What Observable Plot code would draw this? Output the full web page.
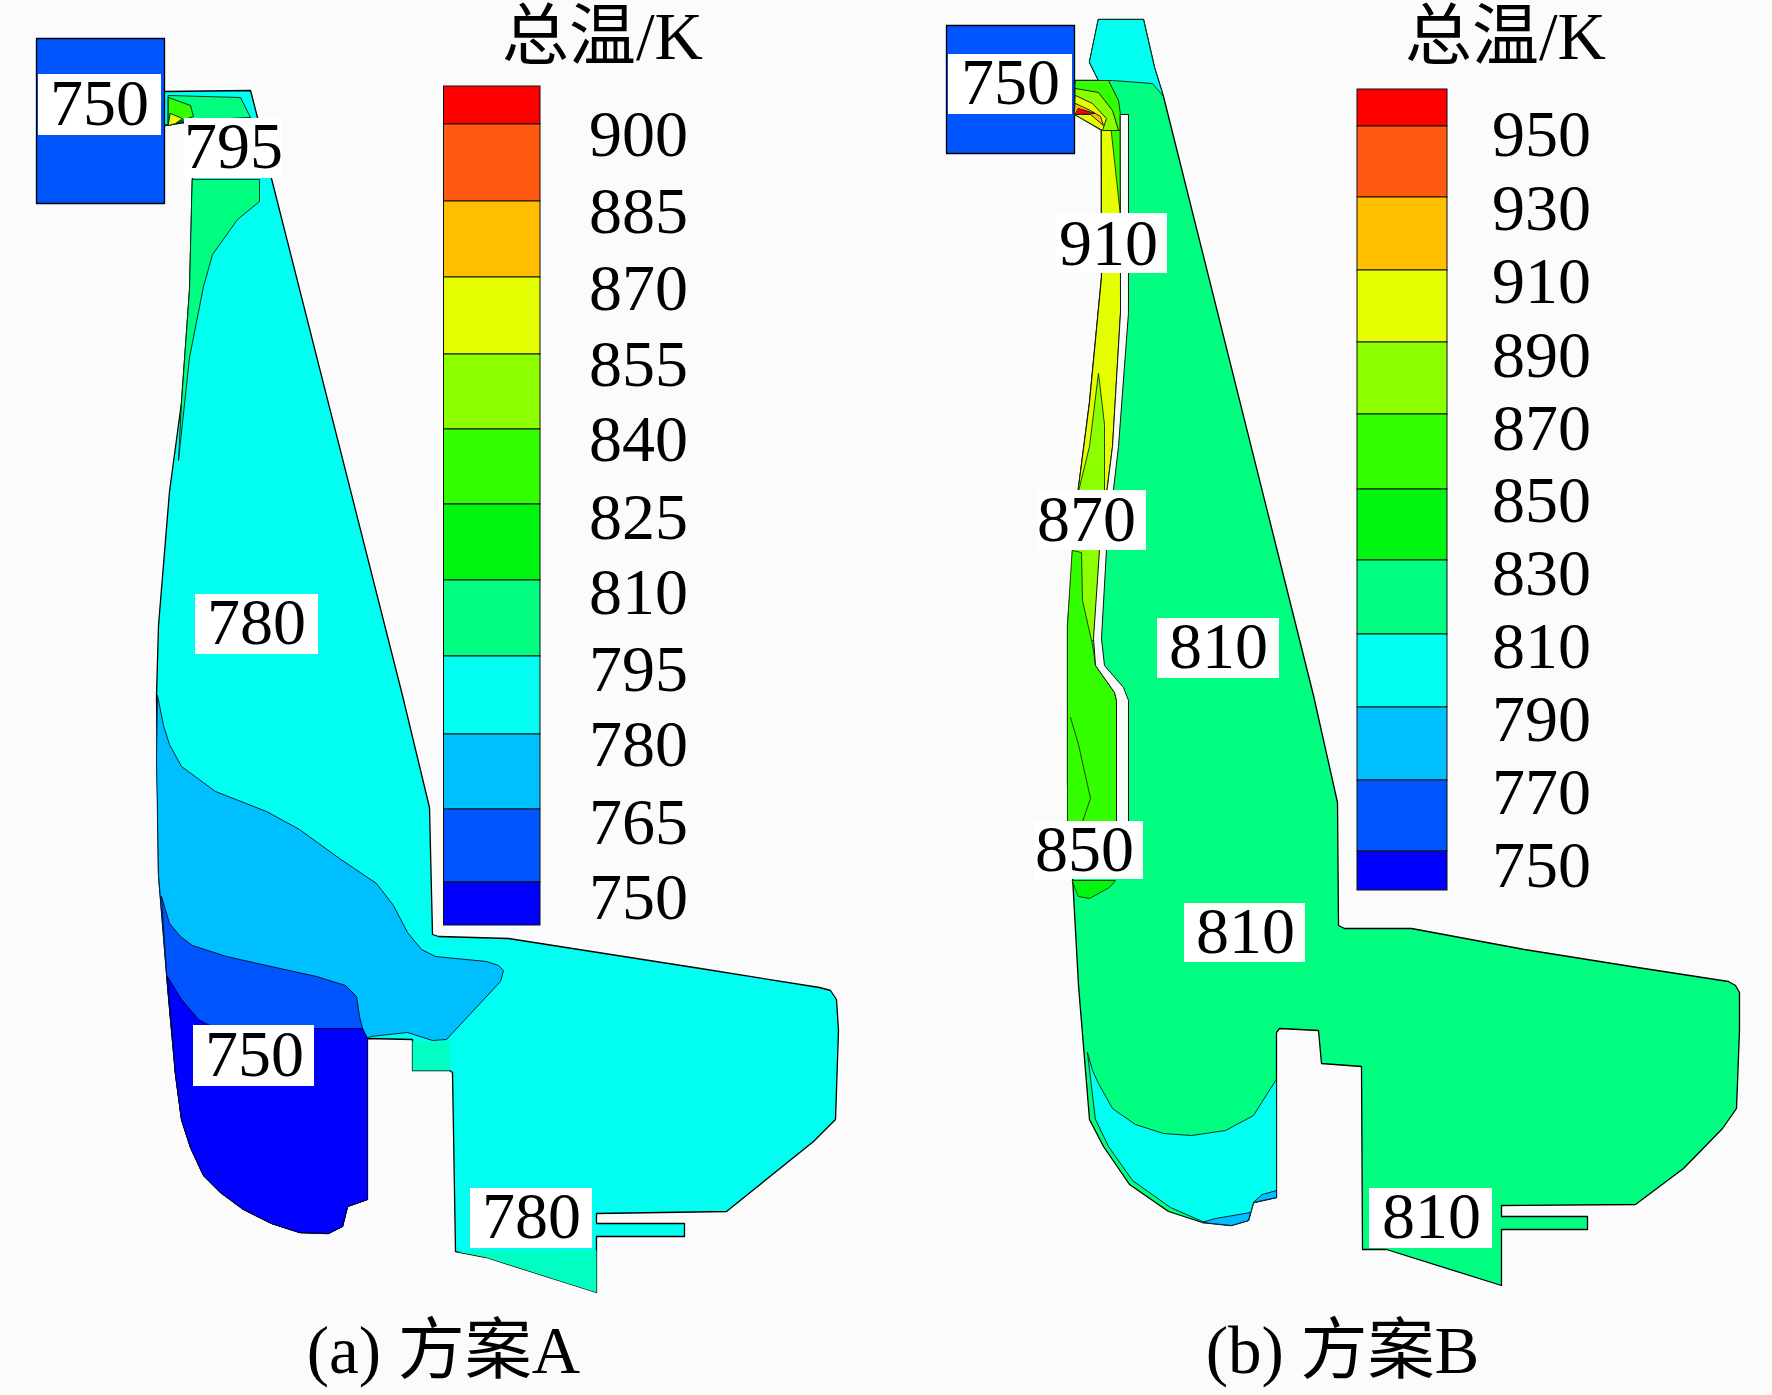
<!DOCTYPE html>
<html>
<head>
<meta charset="utf-8">
<script src="https://cdn.jsdelivr.net/npm/d3@7"></script>
<script src="https://cdn.jsdelivr.net/npm/@observablehq/plot@0.6"></script>
<style>
html,body{margin:0;padding:0;background:#fbfbfb;overflow:hidden}
svg{display:block;max-width:none}
</style>
</head>
<body>
<div id="chart"></div>
<script>
const FONT = '"Liberation Serif","Noto Sans CJK SC",serif';
const bandColors = ["#ff0000","#ff5a10","#ffbf00","#e6ff00","#8cff00","#33ff00","#00f510","#00ff80","#00fff0","#00bfff","#0055ff","#0000ff"];
const [RED,ORG,AMB,YEL,LIME,GRN,GRN2,SPR,CYA,SKY,BLU,DEEP] = bandColors;

// legends
const legendAValues = [900,885,870,855,840,825,810,795,780,765,750];
const legendAEdges = [86,124,201,277,354,429,504,580,656,734,809,882,925];
const legendALabelY = [134,211,288,364,439,517,592,669,744,822,897];
const legendBValues = [950,930,910,890,870,850,830,810,790,770,750];
const legendBEdges = [89,126,197,270,342,414,489,560,634,707,780,851,890];
const legendBLabelY = [134,208,281,355,428,500,573,646,719,792,865];

// panel A geometry
const lowerWallA = [[367,1199],[347,1206],[342,1226],[328,1233],[299,1232],[271,1223],[243,1209],[220,1192],[203,1175],[190,1147],[181,1119],[175,1074],[167,985]];
const inletA = [[36,38],[164,38],[164,203],[36,203]];
const bodyA = [[164,91],[250,90],[257,117],[271,178],[402,695],[429,807],[432,934],[438,936],[508,938],[700,968],[819,987],[830,990],[836,999],[838,1030],[835,1119],[813,1141],[726,1211],[596,1213],[596,1223],[684,1223],[684,1236],[596,1236],[596,1292],[486,1257],[455,1251],[452,1072],[449,1070],[412,1070],[412,1039],[367,1038],...lowerWallA,[158,874],[156,695],[158,625],[169,491],[181,402],[189,290],[192,179],[184,122],[164,125]];
const skyA = [[157,695],[163,725],[169,744],[181,766],[215,791],[266,811],[299,829],[339,858],[376,883],[393,905],[407,932],[421,949],[435,956],[486,961],[498,965],[503,970],[500,981],[446,1039],[432,1040],[407,1032],[370,1036],[367,1038],...lowerWallA,[158,874],[156,760]];
const blueA = [[161,896],[169,923],[180,936],[192,945],[226,956],[266,965],[316,976],[345,985],[356,996],[359,1016],[362,1028],[367,1038],...lowerWallA];
const deepA = [[167,976],[181,999],[198,1019],[215,1028],[362,1028],[367,1038],...lowerWallA.slice(0,-1),[169,1000]];
const greenA = [[192,179],[259,179],[259,201],[237,219],[212,254],[203,286],[189,357],[178,460],[181,402],[189,290]];
const topA = [[168,95],[240,97],[250,117],[185,120],[168,125]];
const hotA1 = [[168,97],[190,105],[193,116],[175,122],[168,125]];
const hotA2 = [[170,113],[182,118],[175,123],[168,125]];
const tabA = [[412,1041],[449,1041],[449,1070],[412,1070]];
const wedgeA = [[455,1251],[596,1250],[596,1292],[486,1257]];

// panel B geometry
const lowerWallB = [[1276,1197],[1253,1202],[1248,1220],[1231,1225],[1202,1222],[1168,1211],[1129,1184],[1103,1146],[1089,1119]];
const inletB = [[946,25],[1074,25],[1074,153],[946,153]];
const bodyB = [[1098,19],[1143,19],[1154,67],[1163,96],[1313,695],[1337,802],[1338,925],[1344,928],[1411,928],[1524,949],[1637,967],[1728,981],[1735,985],[1739,992],[1739,1030],[1736,1108],[1722,1128],[1683,1168],[1635,1204],[1501,1205],[1501,1216],[1587,1216],[1587,1229],[1501,1229],[1501,1285],[1386,1249],[1362,1249],[1361,1066],[1321,1063],[1318,1030],[1279,1028],[1276,1032],...lowerWallB,[1078,985],[1067,784],[1067,625],[1078,487],[1089,402],[1101,277],[1101,114],[1074,114],[1074,80],[1098,80],[1089,62]];
const capB = [[1098,19],[1143,19],[1154,67],[1163,96],[1152,83],[1112,80],[1098,80],[1089,62]];
const channelB = [[1101,114],[1120,114],[1120,312],[1112,446],[1099,549],[1072,549],[1078,487],[1089,402],[1101,277]];
const limeB = [[1098,373],[1104,424],[1104,491],[1101,560],[1094,640],[1072,640],[1072,554],[1078,491],[1089,446]];
const limeTopB = [[1110,120],[1120,120],[1120,215]];
const grnB = [[1072,550],[1081,552],[1082,600],[1091,640],[1093,650],[1095,665],[1114,692],[1116,700],[1116,825],[1067,825],[1067,625]];
const grnLowB = [[1072,880],[1115,880],[1109,887],[1089,898],[1078,896]];
const slitB = [[1120,114],[1128,114],[1128,312],[1118,446],[1106,549],[1101,638],[1104,665],[1123,687],[1128,700],[1128,830],[1116,830],[1116,700],[1114,692],[1095,665],[1093,638],[1099,549],[1112,446],[1120,312]];
const cyaB = [[1087,1052],[1092,1070],[1098,1083],[1112,1108],[1135,1124],[1163,1133],[1191,1135],[1225,1130],[1253,1115],[1270,1088],[1276,1079],[1276,1197],[1253,1202],[1248,1220],[1231,1225],[1202,1221],[1170,1207],[1132,1180],[1108,1146],[1095,1119]];
const skyB1 = [[1202,1222],[1231,1225],[1248,1220],[1250,1212],[1215,1218]];
const skyB2 = [[1253,1202],[1276,1197],[1276,1190],[1262,1194]];
const hotB = [
  [GRN,[[1075,80],[1108,80],[1118,100],[1120,114],[1120,130],[1101,125],[1074,114]]],
  [LIME,[[1075,88],[1098,92],[1112,110],[1118,130],[1101,130],[1074,114]]],
  [YEL,[[1075,95],[1092,103],[1106,118],[1102,130],[1074,114]]],
  [AMB,[[1075,103],[1090,110],[1100,116],[1103,125],[1090,114],[1074,114]]],
  [RED,[[1078,108],[1095,113],[1075,114]]]
];
const contourB = [[1070,717],[1078,744],[1090,798],[1081,824]];

// value labels on the contours
const labels = [
  {t:"750",x:99,y:103,x1:38,x2:161,y1:74,y2:135},
  {t:"795",x:233,y:146,x1:184,x2:282,y1:118,y2:178},
  {t:"780",x:256,y:622,x1:195,x2:318,y1:594,y2:654},
  {t:"750",x:254,y:1054,x1:193,x2:314,y1:1025,y2:1086},
  {t:"780",x:531,y:1216,x1:470,x2:592,y1:1188,y2:1248},
  {t:"750",x:1010,y:82,x1:948,x2:1072,y1:54,y2:114},
  {t:"910",x:1108,y:243,x1:1055,x2:1167,y1:213,y2:273},
  {t:"870",x:1086,y:519,x1:1037,x2:1146,y1:490,y2:550},
  {t:"810",x:1218,y:646,x1:1157,x2:1279,y1:618,y2:678},
  {t:"850",x:1084,y:849,x1:1034,x2:1143,y1:821,y2:879},
  {t:"810",x:1245,y:931,x1:1184,x2:1305,y1:903,y2:962},
  {t:"810",x:1431,y:1216,x1:1369,x2:1492,y1:1188,y2:1248}
];
const titles = [
  {t:"总温/K",x:602,y:37},{t:"总温/K",x:1505,y:37},
  {t:"(a) 方案A",x:443,y:1351},{t:"(b) 方案B",x:1342,y:1351}
];

const X = d => d[0], Y = d => d[1];
const poly = (pts, fill, stroke = "#000", sw = 1.3) =>
  Plot.line(pts, {x:X, y:Y, fill, stroke, strokeWidth:sw, curve:"linear-closed"});
const bands = (edges, x1, x2) => bandColors.map((c,i)=>({c, x1, x2, y1:edges[i], y2:edges[i+1]}));
const legendLabels = (vals, ys, x) => vals.map((v,i)=>({t:String(v), x, y:ys[i]}));
const textMark = (data, size) => Plot.text(data, {x:"x", y:"y", text:"t", fontSize:size, fontFamily:FONT, fill:"#000", textAnchor:"middle"});
const legendBar = (data) => Plot.rect(data, {x1:"x1", x2:"x2", y1:"y1", y2:"y2", fill:"c", stroke:"#111", strokeWidth:1});

const chart = Plot.plot({
  width:1772, height:1395, margin:0,
  x:{domain:[0,1772], range:[0,1772], axis:null},
  y:{domain:[0,1395], range:[0,1395], axis:null},
  style:{background:"#fbfbfb"},
  marks:[
    // panel A
    poly(inletA, BLU),
    poly(bodyA, CYA),
    poly(tabA, "#00ffc0", "none"),
    poly(wedgeA, "#00ffc0", "none"),
    poly(greenA, SPR, "#003322", 1),
    poly(topA, SPR, "#003322", 1),
    poly(hotA1, GRN, "#003322", 1),
    poly(hotA2, YEL, "#003322", 1),
    poly(skyA, SKY, "#002244", 1),
    poly(blueA, BLU, "#001144", 1),
    poly(deepA, DEEP, "#000044", 1),
    legendBar(bands(legendAEdges,443.5,540)),
    textMark(legendLabels(legendAValues, legendALabelY, 638), 66),
    // panel B
    poly(inletB, BLU),
    poly(bodyB, SPR),
    poly(capB, CYA, "#003322", 1),
    poly(channelB, YEL, "#111", 1),
    poly(limeB, LIME, "#224400", 1),
    poly(limeTopB, GRN, "#224400", 1),
    poly(grnB, GRN, "#224400", 1),
    poly(grnLowB, GRN2, "#224400", 1),
    Plot.line(contourB, {x:X, y:Y, stroke:"#224400", strokeWidth:1}),
    ...hotB.map(([c,pts]) => poly(pts, c, "#222", 1)),
    poly(slitB, "#fbfbfb", "#111", 1),
    poly(cyaB, CYA, "#003322", 1),
    poly(skyB1, SKY, "#002244", 1),
    poly(skyB2, SKY, "#002244", 1),
    legendBar(bands(legendBEdges,1357,1447)),
    textMark(legendLabels(legendBValues, legendBLabelY, 1541), 66),
    // labels
    Plot.rect(labels, {x1:"x1", x2:"x2", y1:"y1", y2:"y2", fill:"#fff"}),
    textMark(labels, 66),
    textMark(titles, 67)
  ]
});
document.getElementById("chart").appendChild(chart);
</script>
</body>
</html>
